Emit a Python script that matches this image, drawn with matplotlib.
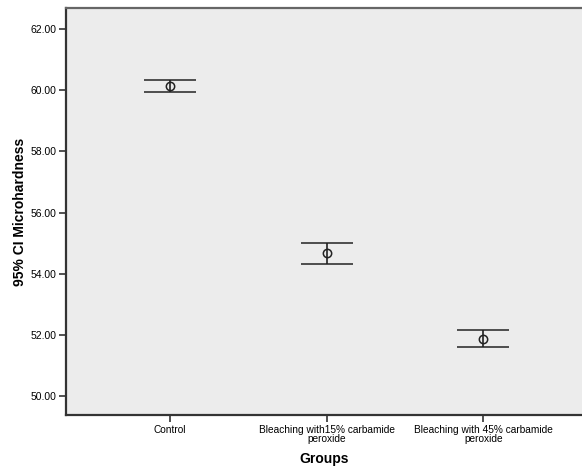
import matplotlib
matplotlib.use("Agg")
import matplotlib.pyplot as plt
import numpy as np

plt.rcParams['font.family'] = ['Liberation Sans', 'DejaVu Sans']

groups = ["Control", "Bleaching with15% carbamide\nperoxide", "Bleaching with 45% carbamide\nperoxide"]
means = [60.15, 54.68, 51.88]
upper = [60.35, 55.00, 52.15]
lower = [59.95, 54.33, 51.60]
yticks = [50, 52, 54, 56, 58, 60, 62]

fig = plt.figure(figsize=(5.82, 4.68), dpi=100)
ax = fig.add_axes([66/582, 53/468, 1 - 66/582, (415-8)/468])
ax.set_facecolor('#ececec')

x = np.arange(1, len(groups) + 1)
m = np.array(means)
yerr = np.vstack([m - np.array(lower), np.array(upper) - m])
ax.errorbar(x, m, yerr=yerr, fmt='o', mfc='none', mec='#222222', ms=6, mew=1.1,
            ecolor='#222222', elinewidth=1.2, capsize=18.5, capthick=1.3, color='#222222')

ax.set_xlim(0.338, 3.63)
ax.set_ylim(49.38, 62.69)
ax.set_yticks(yticks)
ax.set_yticklabels([f"{v:.2f}" for v in yticks], fontsize=7.5)
ax.set_xticks(x)
ax.set_xticklabels(groups, fontsize=7.3, linespacing=0.85)
ax.tick_params(axis='both', direction='out', length=5, width=1.2, color='#333333', pad=2)

for s in ['left', 'bottom']:
    ax.spines[s].set_linewidth(1.6)
    ax.spines[s].set_color('#333333')
ax.spines['top'].set_linewidth(1.6)
ax.spines['top'].set_color('#666666')
ax.spines['right'].set_visible(False)

ax.set_ylabel("95% CI Microhardness", fontsize=10, fontweight='bold', labelpad=2)
ax.set_xlabel("Groups", fontsize=10, fontweight='bold', labelpad=6)

fig.savefig("out.png", dpi=100)
